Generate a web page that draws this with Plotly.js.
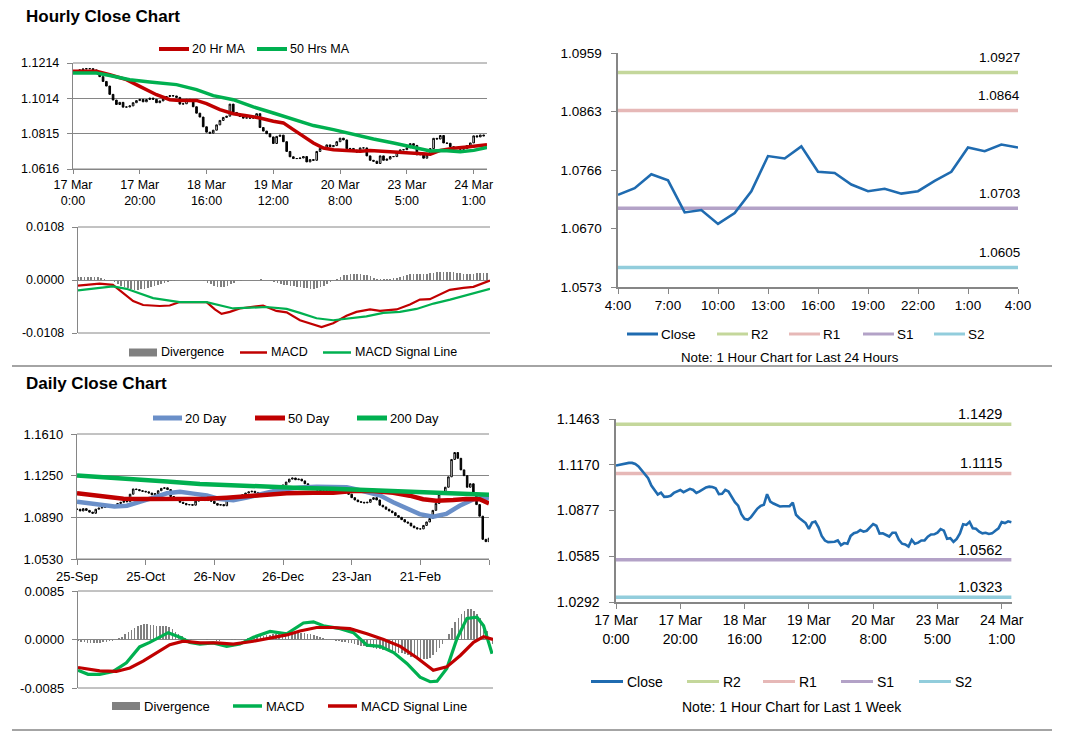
<!DOCTYPE html>
<html><head><meta charset="utf-8">
<script src="https://cdn.plot.ly/plotly-3.0.1.min.js"></script>
<style>html,body{margin:0;padding:0;background:#fff;}#chart{width:1066px;height:733px;}</style>
</head><body><div id="chart"></div>
<script>
// ================= DATA =================
// Hourly closes, 17 Mar 0:00 .. 24 Mar 3:00 (trading hours)
const hourlyClose = [
 1.1165,1.1170,1.1175,1.1180,1.1182,1.1182,1.1175,1.1160,1.1137,1.1110,
 1.1084,1.1037,1.1005,1.0980,1.0992,1.0965,1.0966,1.0972,1.0990,1.1002,
 1.1009,1.0995,1.1008,1.1016,1.1009,1.0990,1.1000,1.1012,1.1025,1.1030,
 1.1028,1.1020,1.0982,1.0984,1.1009,1.0999,1.0967,1.0931,1.0909,1.0854,
 1.0824,1.0818,1.0835,1.0865,1.0890,1.0907,1.0914,1.0982,1.0935,1.0922,
 1.0912,1.0903,1.0905,1.0903,1.0905,1.0928,1.0850,1.0830,1.0815,1.0797,
 1.0760,1.0800,1.0807,1.0770,1.0715,1.0685,1.0675,1.0675,1.0678,1.0686,
 1.0656,1.0669,1.0665,1.0715,1.0732,1.0738,1.0752,1.0742,1.0748,1.0770,
 1.0790,1.0780,1.0730,1.0732,1.0722,1.0711,1.0735,1.0735,1.0690,1.0665,
 1.0660,1.0647,1.0690,1.0665,1.0672,1.0686,1.0686,1.0710,1.0724,1.0725,
 1.0736,1.0759,1.0749,1.0696,1.0700,1.0677,1.0695,1.0731,1.0789,1.0785,
 1.0805,1.0763,1.0761,1.0742,1.0731,1.0735,1.0727,1.0731,1.0748,1.0763,
 1.0803,1.0797,1.0808,1.0803];

const ma20hX = [0,7,11,16,20,25,29,32,37,40,44,48,52,56,60,63,66,69,72,75,78,82,86,89,93,98,103,107,110,114,118,124];
const ma20hY = [1.1167,1.1167,1.1148,1.1120,1.1082,1.1035,1.1007,1.1003,1.1003,1.0985,1.0951,1.0928,1.0917,1.0904,1.0885,1.0876,1.0838,1.0800,1.0763,1.0734,1.0725,1.0721,1.0716,1.0721,1.0716,1.0710,1.0706,1.0699,1.0721,1.0733,1.0740,1.0753];
const ma50hX = [0,7,11,17,23,31,37,42,48,54,60,66,72,78,84,90,96,102,107,111,116,120,124];
const ma50hY = [1.1158,1.1158,1.1143,1.1120,1.1107,1.1092,1.1064,1.1030,1.1007,1.0966,1.0932,1.0898,1.0861,1.0838,1.0810,1.0785,1.0763,1.0740,1.0718,1.0721,1.0714,1.0721,1.0738];

const hMacdX = [0,6.5,10.5,13.6,16.6,19.6,24.6,27.6,30.6,38.7,41.2,43.2,45.7,48.7,55.7,59.7,62.8,66.8,69.8,73.3,76.8,80.8,83.8,87.9,90.9,95.9,99.9,102.9,105.9,108.9,111.9,116,119,124];
const hMacdY = [-0.00115,-0.00075,-0.0010,-0.0026,-0.0043,-0.0051,-0.0053,-0.0052,-0.0045,-0.0045,-0.0060,-0.0069,-0.0065,-0.0058,-0.0052,-0.0063,-0.0066,-0.0082,-0.0089,-0.0096,-0.0088,-0.0073,-0.0065,-0.0060,-0.0063,-0.0060,-0.0050,-0.0040,-0.0039,-0.0030,-0.0020,-0.0016,-0.0014,-0.0001];
const hSigX = [0,6.5,10.5,14.6,18.6,22.6,26.6,30.6,38.7,42.7,46.7,56.7,62.8,66.8,71.8,76.8,81.8,86.8,91.9,96.9,101.9,107,112,117,124];
const hSigY = [-0.0021,-0.0017,-0.0013,-0.0018,-0.0028,-0.0037,-0.0041,-0.0045,-0.0045,-0.0052,-0.0058,-0.0055,-0.0059,-0.0067,-0.0078,-0.0082,-0.0078,-0.0074,-0.0067,-0.0065,-0.0059,-0.0048,-0.0040,-0.0031,-0.0018];
// divergence, units of 1e-4, one per hour
const hDivE4 = [7,7,7,7,7,7,6,5,2,0,
 -2,-5,-9,-12,-15,-17,-19,-20,-20,-19,-18,-17,-15,-13,-11,-9,-7,-5,-3,-2,-1,
 -1,-1,-1,-1,0,0,-1,
 -3,-6,-9,-12,-14,-15,-14,-12,-9,-6,-3,
 -2,-1,-1,0,1,1,2,1,0,
 -2,-4,-6,-8,-10,-11,-12,-13,-14,-15,-16,-17,-18,-18,-17,-15,-12,-8,-4,
 0,3,6,
 10,11,12,12,12,12,11,10,8,
 5,3,2,2,3,3,4,5,
 7,9,11,12,13,13,12,12,13,14,15,16,17,17,17,16,16,15,14,13,13,13,13,14,14,14,15];

// Daily closes, 25 Sep .. 24 Mar (trading days)
const dailyClose = [
 1.0960,1.0945,1.0965,1.0950,1.0935,1.0925,1.0960,1.0970,1.0975,1.0985,
 1.0990,1.0985,1.0990,1.1010,1.1020,1.1030,1.1025,1.1090,1.1135,1.1130,
 1.1120,1.1115,1.1110,1.1100,1.1085,1.1095,1.1120,1.1140,1.1145,1.1130,
 1.1070,1.1050,1.1040,1.1020,1.1010,1.0998,1.1000,1.0995,1.1030,1.1040,
 1.1045,1.1035,1.1040,1.1030,1.1010,1.0995,1.1000,1.0990,1.1045,1.1060,
 1.1065,1.1075,1.1060,1.1085,1.1100,1.1110,1.1115,1.1105,1.1085,1.1090,
 1.1095,1.1085,1.1100,1.1090,1.1100,1.1130,1.1170,1.1195,1.1220,1.1230,
 1.1215,1.1220,1.1205,1.1180,1.1160,1.1150,1.1140,1.1125,1.1120,1.1110,
 1.1120,1.1125,1.1115,1.1105,1.1130,1.1120,1.1100,1.1090,1.1060,1.1040,
 1.1025,1.1020,1.1015,1.1020,1.1045,1.1060,1.1040,1.0995,1.0980,1.0960,
 1.0945,1.0930,1.0905,1.0890,1.0870,1.0850,1.0840,1.0815,1.0800,1.0790,
 1.0790,1.0820,1.0850,1.0880,1.0950,1.1010,1.1090,1.1110,1.1150,1.1240,
 1.1390,1.1450,1.1400,1.1300,1.1250,1.1150,1.1180,1.1100,1.1000,1.0900,
 1.0700,1.0680,1.0710];

const d20X = [0,3,7.5,12,16,20,24.5,28.8,33,37.3,41.6,45.8,50.1,54.4,58.6,62.9,67.2,71.4,76.8,82.1,86.4,89.6,92.8,97,101.3,105.5,109.8,114.1,118.3,122.6,126.9,130.1,132];
const d20Y = [1.1025,1.1016,1.0998,1.0984,1.0990,1.1020,1.1060,1.1098,1.1110,1.1095,1.1078,1.1048,1.1038,1.1060,1.1090,1.1115,1.1135,1.1148,1.1155,1.1152,1.1150,1.1130,1.1105,1.1080,1.1020,1.0965,1.0918,1.0895,1.0920,1.0990,1.1045,1.1060,1.1055];
const d50X = [0,7.5,14.9,21.3,28.8,35.2,41.6,48,54.4,60.8,67.2,75.7,82.1,88.5,94.9,101.3,106.6,110.9,115.1,120.5,124.7,129,132];
const d50Y = [1.1098,1.1074,1.1050,1.1048,1.1046,1.1046,1.1050,1.1060,1.1074,1.1089,1.1098,1.1103,1.1103,1.1118,1.1118,1.1103,1.1077,1.1046,1.1034,1.1040,1.1048,1.1046,1.1011];
const d200X = [0,7.5,18.1,28.8,39.4,50.1,60.8,71.4,82.1,92.8,103.4,114.1,124.7,132];
const d200Y = [1.1252,1.1240,1.1215,1.1199,1.1179,1.1165,1.1152,1.1144,1.1138,1.1127,1.1115,1.1106,1.1098,1.1086];

const dMacdX = [0,3.2,6.9,11.2,15.4,19.6,22.8,26,28.7,32.4,35.6,38.8,43,47.3,51.5,55.8,61.1,66.4,71.7,74.9,78,83.4,87.6,91.9,96.1,100.4,104.6,108.8,112,114.2,117.3,120.5,123.7,126.9,129,130.6,131.7];
const dMacdY = [-0.0054,-0.0061,-0.0061,-0.0056,-0.0041,-0.0013,-0.0005,0.0004,0.0012,0.0004,-0.0005,-0.0008,-0.0006,-0.0012,-0.0008,0.0004,0.0014,0.0010,0.0029,0.0031,0.0024,0.0019,0.0012,-0.0010,-0.0012,-0.0023,-0.0042,-0.0066,-0.0074,-0.0073,-0.0051,0.0001,0.0037,0.0039,0.0024,-0.0005,-0.0025];
const dSigX = [0,6.9,12.2,16.5,20.7,25,29.2,33.5,38.8,44.1,49.4,55.8,61.1,66.4,70.6,75.9,81.2,86.5,91.9,97.2,102.5,107.8,113,117.3,121.6,125.8,129,132];
const dSigY = [-0.0049,-0.0055,-0.0056,-0.0050,-0.0038,-0.0023,-0.0009,-0.0003,-0.0006,-0.0006,-0.0008,-0.0003,0.0002,0.0008,0.0015,0.0021,0.0021,0.0019,0.0010,0.0000,-0.0012,-0.0032,-0.0054,-0.0048,-0.0028,-0.0005,0.0005,0.0000];
// divergence, units of 1e-4, one per day
const dDivE4 = [-3,-4,-5,-6,-7,-7,-7,-6,-5,-4,-3,-2,-1,
 2,5,9,13,17,21,24,26,27,27,26,25,24,24,24,23,22,18,14,10,6,3,1,
 1,0,-1,-1,0,1,0,-1,-2,-2,-1,0,0,1,1,0,1,
 1,2,3,4,5,6,7,8,8,9,10,10,10,10,11,11,12,12,12,11,10,9,8,
 6,4,2,1,0,-1,-2,-3,-4,-5,
 -6,-7,-8,-10,-11,-12,-13,-14,-15,-16,-17,-18,-19,-20,-21,-22,-23,-24,-26,-28,-30,-32,-33,-34,-35,-34,-32,-28,-22,-15,
 -8,0,10,20,30,38,44,50,53,53,50,45,38,28,15,2,-8];

const levelNames = ['R2','R1','S1','S2'];
const levels24 = [1.0927,1.0864,1.0703,1.0605];
const levelsWeek = [1.1429,1.1115,1.0562,1.0323];

const hourTickLabels = ['17 Mar<br>0:00','17 Mar<br>20:00','18 Mar<br>16:00','19 Mar<br>12:00','20 Mar<br>8:00','23 Mar<br>5:00','24 Mar<br>1:00'];
const last24TickLabels = ['4:00','7:00','10:00','13:00','16:00','19:00','22:00','1:00','4:00'];
const dayTickLabels = ['25-Sep','25-Oct','26-Nov','26-Dec','23-Jan','21-Feb'];
const hPriceTicks = ['1.0616','1.0815','1.1014','1.1214'];
const hMacdTicks = ['-0.0108','0.0000','0.0108'];
const last24Ticks = ['1.0573','1.0670','1.0766','1.0863','1.0959'];
const dPriceTicks = ['1.0530','1.0890','1.1250','1.1610'];
const dMacdTicks = ['-0.0085','0.0000','0.0085'];
const weekTicks = ['1.0292','1.0585','1.0877','1.1170','1.1463'];

// ================= BUILD =================
const W=1066,H=733;
const FONT='"Liberation Sans", Arial, sans-serif';
const GRAY='#868686';
const RED='#C00000', GREEN='#00B050', BLUE20='#6A8FC8', CLOSE='#1F6BB0', DIVC='#808080';
const levelColors = ['#C4D79B','#E6B8B7','#B3A2C7','#92CDDC'];
const dX=(a,b)=>[a/W,b/W];
const dY=(t,b)=>[1-b/H,1-t/H];
const evenTicks=l=>{const a=parseFloat(l[0]),b=parseFloat(l[l.length-1]);return l.map((_,i)=>a+(b-a)*i/(l.length-1));};
const idx=n=>Array.from({length:n},(_,i)=>i);

function ohlc(close){
  const open=close.map((c,i)=>i===0?c:close[i-1]);
  return {open, close, high:close.map((c,i)=>Math.max(c,open[i])), low:close.map((c,i)=>Math.min(c,open[i]))};
}

const traces=[];
// top-left price
const hO=ohlc(hourlyClose);
traces.push({type:'candlestick',x:idx(hourlyClose.length),open:hO.open,high:hO.high,low:hO.low,close:hO.close,xaxis:'x',yaxis:'y',
  increasing:{line:{color:'#000',width:1},fillcolor:'#fff'},decreasing:{line:{color:'#000',width:1},fillcolor:'#000'},whiskerwidth:0,showlegend:false,hoverinfo:'skip'});
traces.push({type:'scatter',mode:'lines',x:ma20hX,y:ma20hY,xaxis:'x',yaxis:'y',line:{color:RED,width:3.5},name:'20 Hr MA'});
traces.push({type:'scatter',mode:'lines',x:ma50hX,y:ma50hY,xaxis:'x',yaxis:'y',line:{color:GREEN,width:3.5},name:'50 Hrs MA'});
// top-left macd
traces.push({type:'bar',x:idx(hDivE4.length),y:hDivE4.map(v=>v*1e-4),width:0.5,marker:{color:DIVC,line:{width:0}},xaxis:'x2',yaxis:'y2',name:'Divergence'});
traces.push({type:'scatter',mode:'lines',x:hMacdX,y:hMacdY,xaxis:'x2',yaxis:'y2',line:{color:RED,width:2.2},name:'MACD'});
traces.push({type:'scatter',mode:'lines',x:hSigX,y:hSigY,xaxis:'x2',yaxis:'y2',line:{color:GREEN,width:2.2},name:'MACD Signal Line'});
// top-right: last 24 hours
const last24=hourlyClose.slice(-25);
levelNames.forEach((n,k)=>traces.push({type:'scatter',mode:'lines',x:[0,24],y:[levels24[k],levels24[k]],xaxis:'x3',yaxis:'y3',line:{color:levelColors[k],width:3.5},name:n}));
traces.push({type:'scatter',mode:'lines',x:idx(last24.length),y:last24,xaxis:'x3',yaxis:'y3',line:{color:CLOSE,width:2.6},name:'Close'});
// bottom-left daily price
const dO=ohlc(dailyClose);
traces.push({type:'candlestick',x:idx(dailyClose.length),open:dO.open,high:dO.high,low:dO.low,close:dO.close,xaxis:'x4',yaxis:'y4',
  increasing:{line:{color:'#000',width:1},fillcolor:'#fff'},decreasing:{line:{color:'#000',width:1},fillcolor:'#000'},whiskerwidth:0,showlegend:false,hoverinfo:'skip'});
traces.push({type:'scatter',mode:'lines',x:d20X,y:d20Y,xaxis:'x4',yaxis:'y4',line:{color:BLUE20,width:4.5},name:'20 Day'});
traces.push({type:'scatter',mode:'lines',x:d50X,y:d50Y,xaxis:'x4',yaxis:'y4',line:{color:RED,width:4.5},name:'50 Day'});
traces.push({type:'scatter',mode:'lines',x:d200X,y:d200Y,xaxis:'x4',yaxis:'y4',line:{color:GREEN,width:4.5},name:'200 Day'});
// bottom-left macd
traces.push({type:'bar',x:idx(dDivE4.length),y:dDivE4.map(v=>v*1e-4),width:0.5,marker:{color:DIVC,line:{width:0}},xaxis:'x5',yaxis:'y5',name:'Divergence'});
traces.push({type:'scatter',mode:'lines',x:dMacdX,y:dMacdY,xaxis:'x5',yaxis:'y5',line:{color:GREEN,width:3.2},name:'MACD'});
traces.push({type:'scatter',mode:'lines',x:dSigX,y:dSigY,xaxis:'x5',yaxis:'y5',line:{color:RED,width:3.2},name:'MACD Signal Line'});
// bottom-right: last week
levelNames.forEach((n,k)=>traces.push({type:'scatter',mode:'lines',x:[0,hourlyClose.length-1],y:[levelsWeek[k],levelsWeek[k]],xaxis:'x6',yaxis:'y6',line:{color:levelColors[k],width:3.5},name:n}));
traces.push({type:'scatter',mode:'lines',x:idx(hourlyClose.length),y:hourlyClose,xaxis:'x6',yaxis:'y6',line:{color:CLOSE,width:2.6},name:'Close'});

function xAx(domain,anchor,range,extra){
  return Object.assign({domain,anchor,range,showgrid:false,zeroline:false,showline:true,linecolor:GRAY,linewidth:1.2,
   ticks:'outside',ticklen:5,tickcolor:GRAY,tickfont:{family:FONT,size:12.5,color:'#000'},fixedrange:true,rangeslider:{visible:false}},extra||{});
}
function yAx(domain,anchor,labels,grid,size,extra){
  const tv=evenTicks(labels);
  return Object.assign({domain,anchor,range:[tv[0],tv[tv.length-1]],tickmode:'array',tickvals:tv,ticktext:labels,
   showgrid:grid,gridcolor:GRAY,gridwidth:1,zeroline:false,showline:true,linecolor:GRAY,linewidth:1.2,
   ticks:'outside',ticklen:5,tickcolor:GRAY,ticklabelstandoff:5,tickfont:{family:FONT,size,color:'#000'},fixedrange:true},extra||{});
}
const noX={showticklabels:false,ticks:'',showline:false};

const layout={
  width:W,height:H,margin:{l:0,r:0,t:0,b:0},paper_bgcolor:'#fff',plot_bgcolor:'rgba(0,0,0,0)',
  showlegend:false,hovermode:false,bargap:0,font:{family:FONT,color:'#000'},
  xaxis: xAx(dX(73,487),'y',[0,124],{tickmode:'array',tickvals:hourTickLabels.map((_,i)=>i*20),ticktext:hourTickLabels,ticklen:4}),
  yaxis: yAx(dY(63,169),'x',hPriceTicks,true,12.5),
  xaxis2: xAx(dX(78,490),'y2',[0,124],noX),
  yaxis2: yAx(dY(227,333),'x2',hMacdTicks,true,12.5),
  xaxis3: xAx(dX(618,1018),'y3',[0,24],{tickmode:'array',tickvals:last24TickLabels.map((_,i)=>i*3),ticktext:last24TickLabels,tickfont:{family:FONT,size:13.5,color:'#000'},linewidth:1.6}),
  yaxis3: yAx(dY(53,287),'x3',last24Ticks,false,13.5,{ticklabelstandoff:7,linewidth:1.6}),
  xaxis4: xAx(dX(77,489),'y4',[0,132],{tickmode:'array',tickvals:dayTickLabels.concat(['']).map((_,i)=>i*22),ticktext:dayTickLabels.concat(['']),tickfont:{family:FONT,size:13,color:'#000'}}),
  yaxis4: yAx(dY(434,559),'x4',dPriceTicks,true,13),
  xaxis5: xAx(dX(78,493),'y5',[0,132],noX),
  yaxis5: yAx(dY(591,688),'x5',dMacdTicks,true,13),
  xaxis6: xAx(dX(616,1012),'y6',[0,123.2],{tickmode:'array',tickvals:hourTickLabels.map((_,i)=>i*20),ticktext:hourTickLabels,tickfont:{family:FONT,size:14,color:'#000'},linewidth:1.6}),
  yaxis6: yAx(dY(419,602),'x6',weekTicks,false,14,{ticklabelstandoff:7,linewidth:1.6}),
  annotations:[],shapes:[]
};
const A=layout.annotations,S=layout.shapes;
function txt(x,y,text,size,o){A.push(Object.assign({xref:'paper',yref:'paper',x:x/W,y:1-y/H,text,showarrow:false,xanchor:'left',yanchor:'middle',borderpad:0,font:{family:FONT,size,color:'#000'}},o||{}));}
function sym(x0,x1,y,color,w){S.push({type:'line',xref:'paper',yref:'paper',x0:x0/W,x1:x1/W,y0:1-y/H,y1:1-y/H,line:{color,width:w}});}
function box(x0,x1,y,h,color){S.push({type:'rect',xref:'paper',yref:'paper',x0:x0/W,x1:x1/W,y0:1-(y+h/2)/H,y1:1-(y-h/2)/H,fillcolor:color,line:{width:0}});}
// explicit edge gridlines for gridded panels (top & bottom of plot area)
[['x','y'],['x2','y2'],['x4','y4'],['x5','y5']].forEach(([xa,ya])=>{
  [0,1].forEach(e=>S.push({type:'line',xref:xa+' domain',yref:ya+' domain',x0:0,x1:1,y0:e,y1:e,line:{color:GRAY,width:1},layer:'below'}));
});

// section titles
txt(25,16,'Hourly Close Chart',17,{font:{family:FONT,size:17,color:'#000',weight:'bold'}});
txt(25,383,'Daily Close Chart',17,{font:{family:FONT,size:17,color:'#000',weight:'bold'}});
// separators
S.push({type:'line',xref:'paper',yref:'paper',x0:12/W,x1:1052/W,y0:1-366/H,y1:1-366/H,line:{color:GRAY,width:1.5}});
S.push({type:'line',xref:'paper',yref:'paper',x0:12/W,x1:1052/W,y0:1-730/H,y1:1-730/H,line:{color:GRAY,width:1.5}});

// legends (manual)
sym(159,189,49,RED,4); txt(191,49,'20 Hr MA',12.5);
sym(257,287,49,GREEN,4); txt(289,49,'50 Hrs MA',12.5);
box(129,157,352.5,8,DIVC); txt(160,352.5,'Divergence',12.5);
sym(240,267,352.5,RED,2.5); txt(270,352.5,'MACD',12.5);
sym(323,351,352.5,GREEN,2.5); txt(354,352.5,'MACD Signal Line',12.5);

const legR=[['Close',CLOSE],['R2',levelColors[0]],['R1',levelColors[1]],['S1',levelColors[2]],['S2',levelColors[3]]];
const legRx1=[627,717,789,863,934];
legR.forEach((it,k)=>{sym(legRx1[k],legRx1[k]+31,334,it[1],3);txt(legRx1[k]+33,334,it[0],13.5);});
txt(790,357,'Note: 1 Hour Chart for Last 24 Hours',13.3,{xanchor:'center'});

sym(153,182,418,BLUE20,5); txt(184,418,'20 Day',13);
sym(255,285,418,RED,5); txt(287,418,'50 Day',13);
sym(357,387,418,GREEN,5); txt(389,418,'200 Day',13);
box(112,140,706,8,DIVC); txt(143,706,'Divergence',13);
sym(233,262,706,GREEN,3.5); txt(265,706,'MACD',13);
sym(328,357,706,RED,3.5); txt(360,706,'MACD Signal Line',13);

const legBx1=[591,687,763,841,919];
legR.forEach((it,k)=>{sym(legBx1[k],legBx1[k]+32,681.5,it[1],3);txt(legBx1[k]+35,681.5,it[0],14);});
txt(792,707,'Note: 1 Hour Chart for Last 1 Week',14,{xanchor:'center'});

// level value labels
levels24.forEach(v=>A.push({xref:'x3',yref:'y3',x:24,y:v,text:v.toFixed(4),showarrow:false,xanchor:'right',yanchor:'middle',xshift:4,yshift:15,font:{family:FONT,size:13.5,color:'#000'}}));
levelsWeek.forEach(v=>A.push({xref:'x6',yref:'y6',x:hourlyClose.length-1,y:v,text:v.toFixed(4),showarrow:false,xanchor:'right',yanchor:'middle',xshift:-7,yshift:10,font:{family:FONT,size:14.5,color:'#000'}}));

Plotly.newPlot('chart',traces,layout,{staticPlot:true,displayModeBar:false});
</script></body></html>
